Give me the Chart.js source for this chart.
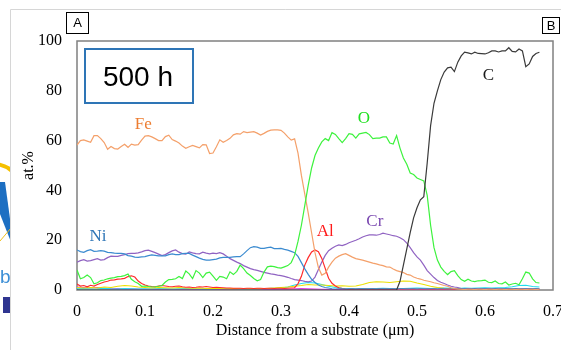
<!DOCTYPE html>
<html>
<head>
<meta charset="utf-8">
<script src="https://cdn.jsdelivr.net/npm/chart.js@4.4.1/dist/chart.umd.min.js"></script>
<style>
  html, body { margin: 0; padding: 0; background: #fff; overflow: hidden; }
  canvas { display: block; }
</style>
</head>
<body>
<canvas id="profile" width="561" height="350"></canvas>
<script>
// Depth positions (µm): fine grid for the main elements, coarse grid for trace signals
const distance = Array.from({ length: 137 }, (_, i) => +(i * 0.005).toFixed(3));
const distanceCoarse = Array.from({ length: 69 }, (_, i) => +(i * 0.01).toFixed(2));

const xTicks = [0, 0.1, 0.2, 0.3, 0.4, 0.5, 0.6, 0.7];
const yTicks = [0, 20, 40, 60, 80, 100];

// Concentrations, at.%
const fe = [
  58.2, 60.0, 60.3, 59.8, 59.3, 62.0, 62.0, 60.8, 59.2, 56.5,
  57.6, 56.8, 56.6, 57.6, 58.5, 57.3, 58.6, 58.2, 58.4, 60.2,
  61.8, 62.0, 61.5, 60.8, 60.0, 60.0, 61.6, 62.2, 60.4, 59.8,
  59.0, 57.8, 56.9, 57.5, 58.1, 57.6, 57.1, 58.4, 58.3, 54.8,
  55.0, 57.5, 60.3, 59.3, 60.0, 60.9, 62.3, 62.8, 62.6, 63.6,
  63.2, 63.4, 63.6, 63.0, 62.2, 62.9, 63.7, 64.2, 64.3, 64.3,
  64.1, 63.0, 61.5, 60.2, 60.7, 55.0, 46.0, 38.5, 31.0, 23.0,
  15.0, 9.0, 6.0, 6.7, 9.2, 11.2, 12.8, 13.6, 14.2, 14.6,
  13.9, 13.2, 12.6, 12.3, 12.0, 11.6, 11.2, 10.8, 10.5, 10.1,
  9.8, 9.3, 9.2, 8.4, 7.8, 7.4, 7.0, 6.3, 6.0, 5.2,
  4.7, 4.4, 3.9, 3.6, 3.3, 2.9, 2.6, 2.2, 1.8, 1.5,
  0.9, 0.6, 0.4, 0.3, 0.2, 0.3, 0.3, 0.2, 0.3, 0.3,
  0.2, 0.3, 0.3, 0.2, 0.3, 0.3, 0.2, 0.3, 0.3, 0.2,
  0.3, 0.3, 0.2, 0.3, 0.3, 0.2, 0.3
];
const oxygen = [
  8.0, 4.5, 5.0, 6.0, 5.0, 2.5, 2.9, 3.8, 4.0, 4.5,
  4.8, 5.0, 5.4, 5.5, 5.8, 6.4, 4.3, 3.3, 2.6, 1.5,
  1.6, 1.4, 1.2, 1.3, 1.5, 1.8, 3.2, 4.2, 4.3, 4.5,
  5.4, 4.6, 7.6, 6.5, 4.6, 7.8, 6.8, 5.0, 6.8, 7.2,
  5.6, 3.9, 5.5, 5.2, 4.5, 7.3, 6.2, 7.5, 10.0, 8.6,
  6.8, 5.8, 4.6, 3.7, 4.2, 7.2, 9.3, 9.6, 9.4, 9.0,
  8.8, 9.3, 9.8, 11.0, 14.0, 19.5, 26.0, 34.0, 42.0, 49.0,
  54.0, 57.0, 59.5, 60.8, 60.0, 63.2, 62.5, 60.8, 59.2, 60.8,
  62.8, 62.5, 61.0, 62.7, 63.0, 63.3, 62.4, 60.8, 61.0, 61.0,
  61.5, 61.5, 59.0, 58.6, 62.0, 57.0, 53.0, 50.5, 47.0, 46.4,
  45.0, 44.4, 43.8, 38.0, 26.0, 17.0, 12.0, 9.2, 7.5, 6.2,
  7.4, 7.8, 5.8, 4.2, 3.5, 4.3, 3.6, 3.4, 3.7, 3.8,
  4.0, 3.1, 3.0, 3.6, 2.6, 2.5, 3.2, 2.0, 2.4, 2.7,
  2.1, 4.5, 7.2, 6.8, 4.5, 3.0, 2.8
];
const carbon = [
  0, 0, 0, 0, 0, 0, 0, 0, 0, 0,
  0, 0, 0, 0, 0, 0, 0, 0, 0, 0,
  0, 0, 0, 0, 0, 0, 0, 0, 0, 0,
  0, 0, 0, 0, 0, 0, 0, 0, 0, 0,
  0, 0, 0, 0, 0, 0, 0, 0, 0, 0,
  0, 0, 0, 0, 0, 0, 0, 0, 0, 0,
  0, 0, 0, 0, 0, 0, 0, 0, 0, 0,
  0, 0, 0, 0, 0, 0, 0, 0, 0, 0,
  0, 0, 0, 0, 0, 0, 0, 0, 0, 0,
  0, 0, 0, 0, 0, 3.5, 10.0, 16.5, 23.0, 29.0,
  33.0, 36.2, 37.5, 51.0, 66.0, 75.0, 80.0, 84.5, 87.5, 89.2,
  89.5, 87.7, 91.5, 94.0, 95.5, 95.2, 94.8, 95.5, 95.0, 94.9,
  94.8, 95.3, 96.0, 96.0, 95.6, 96.0, 96.0, 97.3, 95.8, 95.6,
  96.8, 96.0, 89.7, 90.8, 93.8, 95.0, 95.5
];
const nickel = [
  16.1, 15.4, 15.1, 15.8, 16.2, 15.5, 15.6, 15.8, 15.6, 15.1,
  15.0, 14.8, 14.7, 14.7, 14.5, 13.8, 13.6, 13.2, 13.1, 13.3,
  13.4, 13.8, 14.1, 13.9, 13.7, 13.7, 13.7, 14.2, 14.5, 14.2,
  14.2, 14.6, 14.7, 14.7, 14.0, 13.4, 12.8, 12.3, 12.0, 12.0,
  12.2, 12.4, 12.9, 13.1, 13.1, 13.1, 13.3, 13.4, 13.4, 14.5,
  15.8, 17.0, 17.4, 17.2, 16.7, 16.7, 17.0, 17.2, 16.6, 16.6,
  16.7, 16.3, 16.0, 15.5, 15.0, 13.5, 11.0, 8.5, 6.3, 4.3,
  3.0, 2.0, 1.4, 1.0, 0.8, 0.5, 0.4, 0.5, 0.5, 0.4,
  0.5, 0.5, 0.4, 0.5, 0.5, 0.4, 0.5, 0.5, 0.4, 0.5,
  0.5, 0.4, 0.5, 0.5, 0.4, 0.5, 0.5, 0.4, 0.5, 0.5,
  0.4, 0.5, 0.5, 0.4, 0.5, 0.5, 0.4, 0.5, 0.5, 0.4,
  0.5, 0.5, 0.4, 0.5, 0.5, 0.4, 0.5, 0.5, 0.4, 0.5,
  0.5, 0.4, 0.5, 0.5, 0.4, 0.5, 0.5, 0.4, 0.5, 0.5,
  0.4, 0.5, 0.5, 0.4, 0.5, 0.5, 0.4
];
const aluminium = [
  2.4, 1.6, 1.8, 1.3, 1.9, 1.6, 2.2, 2.7, 3.2, 3.5,
  4.0, 4.1, 4.4, 4.5, 4.7, 5.4, 5.7, 5.2, 3.6, 2.6,
  2.0, 1.6, 1.4, 1.3, 1.6, 1.8, 1.6, 1.4, 1.3, 1.5,
  1.6, 1.3, 1.1, 1.2, 1.0, 1.1, 1.3, 1.2, 1.4, 1.2,
  1.0, 1.1, 1.0, 0.9, 0.8, 0.8, 0.7, 0.7, 0.7, 0.6,
  0.7, 0.7, 0.6, 0.7, 0.7, 0.6, 0.7, 0.7, 0.6, 0.7,
  0.7, 0.6, 0.7, 0.8, 0.9, 2.5, 5.5, 10.0, 13.0, 15.3,
  16.1, 15.4, 12.7, 8.7, 4.7, 2.7, 1.6, 0.9, 0.6, 0.4,
  0.3, 0.4, 0.3, 0.4, 0.3, 0.4, 0.3, 0.4, 0.3, 0.4,
  0.3, 0.4, 0.3, 0.4, 0.3, 0.4, 0.3, 0.4, 0.3, 0.4,
  0.3, 0.4, 0.3, 0.4, 0.3, 0.4, 0.3, 0.4, 0.3, 0.4,
  0.3, 0.4, 0.3, 0.4, 0.3, 0.4, 0.3, 0.4, 0.3, 0.4,
  0.3, 0.4, 0.3, 0.4, 0.3, 0.4, 0.3, 0.4, 0.3, 0.4,
  0.3, 0.4, 0.3, 0.4, 0.3, 0.4, 0.3
];
const chromium = [
  11.2, 11.8, 12.2, 11.6, 11.8, 12.2, 12.6, 12.0, 12.2, 13.0,
  13.6, 13.5, 13.5, 13.9, 14.2, 14.6, 14.7, 14.7, 14.9, 15.3,
  15.8, 16.0, 15.5, 15.0, 14.4, 13.8, 14.2, 15.0, 15.7, 16.1,
  15.2, 14.6, 14.4, 15.3, 14.9, 14.6, 14.5, 15.2, 14.8, 14.5,
  14.8, 14.6, 15.0, 14.5, 13.6, 12.6, 11.9, 11.2, 10.6, 9.8,
  9.2, 8.6, 8.2, 7.9, 7.5, 7.1, 6.8, 6.5, 6.3, 6.0,
  5.8, 5.5, 5.1, 4.6, 4.2, 4.0, 3.8, 3.5, 3.3, 3.6,
  5.2, 8.2, 11.2, 13.9, 15.8, 16.8, 17.6, 18.1, 17.8, 18.3,
  19.0, 19.5, 20.0, 20.6, 21.3, 21.8, 22.1, 22.1, 22.0, 22.3,
  22.8, 22.5, 22.2, 21.8, 21.6, 21.0, 20.2, 18.8, 17.0, 15.0,
  13.3, 12.0, 10.0, 7.8, 6.4, 5.0, 3.8, 3.1, 2.6, 2.0,
  1.5, 1.2, 1.0, 0.6, 0.5, 0.6, 0.5, 0.6, 0.5, 0.6,
  0.5, 0.6, 0.5, 0.6, 0.5, 0.6, 0.5, 0.6, 0.5, 0.6,
  0.5, 0.6, 0.5, 0.6, 0.5, 0.6, 0.5
];
// Trace signals near the baseline (coarse grid)
const traceYellow = [
  1.0, 0.8, 1.0, 0.8, 1.2, 1.0, 1.5, 1.8, 1.6, 1.2,
  1.0, 0.8, 1.0, 0.9, 0.8, 1.0, 0.8, 0.7, 0.8, 0.6,
  0.7, 0.6, 0.5, 0.6, 0.5, 0.5, 0.6, 0.5, 0.6, 0.8,
  1.0, 1.2, 1.5, 1.8, 2.2, 2.0, 2.0, 1.8, 1.6, 1.7,
  1.5, 1.6, 2.2, 3.0, 3.3, 3.2, 3.0, 3.3, 3.6, 3.5,
  2.8, 2.2, 1.5, 1.0, 0.7, 0.5, 0.4, 0.3, 0.4, 0.3,
  0.3, 0.4, 0.3, 0.3, 0.4, 0.3, 0.3, 0.4, 0.3
];
const traceCyan = [
  0.5, 0.6, 0.4, 0.5, 0.7, 0.5, 0.4, 0.6, 0.5, 0.4,
  0.5, 0.4, 0.6, 0.5, 0.4, 0.5, 0.6, 0.5, 0.4, 0.5,
  0.4, 0.5, 0.6, 0.5, 0.4, 0.5, 0.4, 0.5, 0.6, 0.7,
  0.8, 1.2, 2.0, 2.6, 3.0, 2.8, 2.2, 1.5, 1.0, 0.7,
  0.6, 0.5, 0.6, 0.5, 0.6, 0.7, 0.6, 0.5, 0.6, 0.7,
  0.8, 0.7, 0.6, 0.7, 0.8, 0.7, 0.6, 0.8, 0.7, 0.8,
  0.9, 0.8, 0.9, 1.0, 1.3, 1.8, 1.9, 1.4, 1.2
];
const traceMagenta = [
  1.2, 1.0, 0.8, 1.0, 0.6, 0.5, 0.6, 0.4, 0.5, 0.4,
  0.3, 0.4, 0.3, 0.4, 0.3, 0.3, 0.4, 0.3, 0.2, 0.3,
  0.3, 0.2, 0.3, 0.3, 0.2, 0.3, 0.3, 0.2, 0.3, 0.3,
  0.4, 0.3, 0.5, 0.6, 0.5, 0.4, 0.3, 0.3, 0.2, 0.3,
  0.2, 0.3, 0.2, 0.3, 0.2, 0.3, 0.2, 0.3, 0.3, 0.4,
  0.3, 0.2, 0.3, 0.2, 0.3, 0.2, 0.2, 0.3, 0.2, 0.2,
  0.3, 0.2, 0.2, 0.3, 0.2, 0.2, 0.3, 0.2, 0.2
];

// Element name labels placed in data coordinates
const elementLabels = [
  { text: 'Fe', x: 0.0975, y: 66.3, color: '#ed7d31' },
  { text: 'O',  x: 0.422,  y: 69.0, color: '#1fe01f' },
  { text: 'C',  x: 0.605,  y: 86.0, color: '#1a1a1a' },
  { text: 'Ni', x: 0.031,  y: 21.4, color: '#2e75b6' },
  { text: 'Al', x: 0.365,  y: 23.4, color: '#ff1a1a' },
  { text: 'Cr', x: 0.438,  y: 27.4, color: '#7a48b0' }
];

const SERIF = '"Liberation Serif", "Times New Roman", serif';
const SANS = '"Liberation Sans", Arial, sans-serif';

function series(xs, ys) { return xs.map((x, i) => ({ x, y: ys[i] })); }
function line(label, xs, ys, color, width) {
  return {
    label, data: series(xs, ys), borderColor: color, backgroundColor: color,
    borderWidth: width || 1.2, pointRadius: 0, fill: false, tension: 0
  };
}

const decorations = {
  id: 'decorations',
  beforeDraw(chart) {
    const ctx = chart.ctx;
    ctx.save();
    ctx.fillStyle = '#fff';
    ctx.fillRect(0, 0, chart.width, chart.height);

    // fragment of the neighbouring logo, cut at the panel edge
    ctx.save();
    ctx.beginPath(); ctx.rect(0, 0, 10, chart.height); ctx.clip();
    ctx.strokeStyle = '#f5c000'; ctx.lineWidth = 4;
    ctx.beginPath(); ctx.arc(-6, 190, 26, -1.45, -0.55); ctx.stroke();
    ctx.fillStyle = '#1d6fc2';
    ctx.beginPath();
    ctx.moveTo(0, 182); ctx.lineTo(5, 182); ctx.lineTo(11, 226); ctx.lineTo(11, 242); ctx.lineTo(0, 214);
    ctx.closePath(); ctx.fill();
    ctx.strokeStyle = '#f0c020'; ctx.lineWidth = 1;
    ctx.beginPath(); ctx.moveTo(0, 241); ctx.lineTo(11, 228); ctx.stroke();
    ctx.fillStyle = '#3d8fd6'; ctx.font = '19px ' + SANS; ctx.textBaseline = 'alphabetic';
    ctx.fillText('b', 0, 283);
    ctx.fillStyle = '#2f3590';
    ctx.fillRect(3, 297, 8, 16);
    ctx.restore();

    // panel frame
    ctx.strokeStyle = '#d6d6d6'; ctx.lineWidth = 1;
    ctx.beginPath(); ctx.moveTo(10.5, chart.height); ctx.lineTo(10.5, 9.5); ctx.lineTo(chart.width, 9.5); ctx.stroke();

    // panel letters
    ctx.strokeStyle = '#000'; ctx.lineWidth = 1;
    ctx.strokeRect(66.5, 12.5, 22, 21);
    ctx.strokeRect(542.5, 17.5, 17, 16);
    ctx.fillStyle = '#000'; ctx.font = '13px ' + SANS;
    ctx.textAlign = 'center'; ctx.textBaseline = 'middle';
    ctx.fillText('A', 77.5, 23.5);
    ctx.fillText('B', 551, 26);
    ctx.restore();
  },
  beforeDatasetsDraw(chart) {
    const { ctx, chartArea: a } = chart;
    ctx.save();
    ctx.strokeStyle = '#808080'; ctx.lineWidth = 1.5;
    ctx.strokeRect(a.left, a.top, a.right - a.left, a.bottom - a.top);
    ctx.restore();
  },
  afterDatasetsDraw(chart) {
    const { ctx } = chart;
    const xs = chart.scales.x, ys = chart.scales.y;
    ctx.save();
    // annealing time tag
    ctx.fillStyle = '#fff';
    ctx.fillRect(85, 49, 108, 54);
    ctx.strokeStyle = '#2e75b6'; ctx.lineWidth = 2;
    ctx.strokeRect(85, 49, 108, 54);
    ctx.fillStyle = '#000'; ctx.font = '28px ' + SANS;
    ctx.textAlign = 'center'; ctx.textBaseline = 'alphabetic';
    ctx.fillText('500 h', 138, 86);

    ctx.font = '17px ' + SERIF; ctx.textBaseline = 'middle';
    elementLabels.forEach(l => {
      ctx.fillStyle = l.color;
      ctx.fillText(l.text, xs.getPixelForValue(l.x), ys.getPixelForValue(l.y));
    });
    ctx.restore();
  }
};

new Chart(document.getElementById('profile'), {
  type: 'line',
  data: {
    datasets: [
      line('C', distance, carbon, '#3a3a3a'),
      line('O', distance, oxygen, '#3df23d'),
      line('Fe', distance, fe, '#f4a06a'),
      line('Ni', distance, nickel, '#3b8bd0'),
      line('Al', distance, aluminium, '#ff2a2a'),
      line('Cr', distance, chromium, '#9063c2'),
      line('trace (yellow)', distanceCoarse, traceYellow, '#ece000', 1.1),
      line('trace (cyan)', distanceCoarse, traceCyan, '#1fdcf0', 1.1),
      line('trace (magenta)', distanceCoarse, traceMagenta, '#e23de2', 1.1)
    ]
  },
  options: {
    responsive: false,
    animation: false,
    devicePixelRatio: 1,
    layout: { padding: { left: 0, right: 8, top: 41, bottom: 0 } },
    plugins: { legend: { display: false }, tooltip: { enabled: false } },
    scales: {
      x: {
        type: 'linear', min: 0, max: 0.7,
        afterBuildTicks: s => { s.ticks = xTicks.map(v => ({ value: v })); },
        afterFit: s => { s.height = 60; s.paddingLeft = 0; s.paddingRight = 0; },
        grid: { display: false, drawTicks: false },
        border: { display: false },
        ticks: {
          color: '#000', font: { family: SERIF, size: 16 }, padding: 12,
          maxRotation: 0, autoSkip: false,
          callback: v => (v === 0 ? '0' : v.toFixed(1))
        },
        title: {
          display: true, text: 'Distance from a substrate (\u03bcm)', color: '#000',
          font: { family: SERIF, size: 16 }, padding: { top: 0, bottom: 10 }
        }
      },
      y: {
        type: 'linear', min: 0, max: 100,
        afterBuildTicks: s => { s.ticks = yTicks.map(v => ({ value: v })); },
        afterFit: s => { s.width = 77; s.paddingTop = 0; s.paddingBottom = 0; },
        grid: { display: false, drawTicks: false },
        border: { display: false },
        ticks: { color: '#000', font: { family: SERIF, size: 16 }, padding: 15 },
        title: {
          display: true, text: 'at.%', color: '#000',
          font: { family: SERIF, size: 16 }, padding: { top: 19, bottom: 0 }
        }
      }
    }
  },
  plugins: [decorations]
});
</script>
</body>
</html>
